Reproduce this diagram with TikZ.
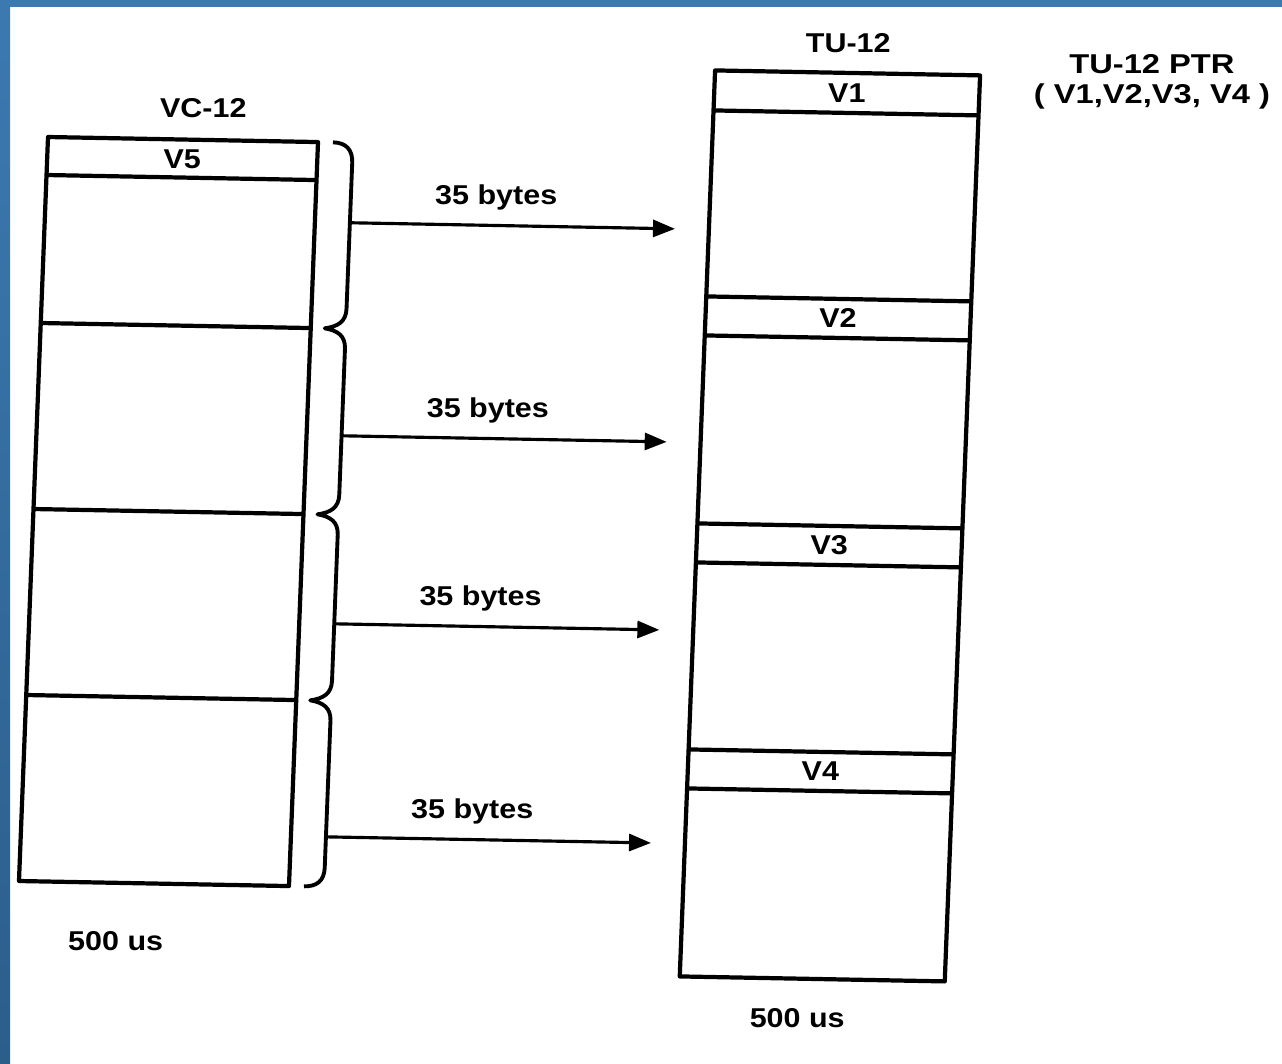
\documentclass[tikz,border=0pt]{standalone}
\usepackage{fontspec}
\setmainfont{Liberation Sans}[FakeStretch=1.12]
\usetikzlibrary{arrows.meta, positioning, calc}

\definecolor{scanblue}{HTML}{3C79B1}
\definecolor{scanbluedark}{HTML}{2C5E8A}

\begin{document}
\begin{tikzpicture}[x=0.02cm, y=-0.02cm, line join=round,
    frame/.style={line width=2.4pt},
    bracket/.style={line width=2.2pt},
    flow/.style={line width=1.8pt, -{Triangle[length=0.44cm, width=0.34cm]}},
    lbl/.style={font=\fontsize{15.5}{17}\selectfont\bfseries, inner sep=1pt}]

    % Page and scan border
    \useasboundingbox (0,0) rectangle (1282,1063);
    \fill[white] (0,0) rectangle (1282,1063);
    \shade[top color=scanblue, bottom color=scanbluedark] (0,0) rectangle (10,1063);
    \fill[scanblue] (0,0) rectangle (1282,7);

    % The scanned page is slightly skewed
    \begin{scope}[cm={1,-0.0187,0.039,1,(0.107cm,0.018cm)}]

    % VC-12 frame
    \draw[frame] (48,137) rectangle (318,881);
    \draw[frame] (48,175) -- (318,175);
    \foreach \y in {323,509,695}
        \draw[frame] (48,\y) -- (318,\y);
    \node[lbl] (vc) at (202,105) {VC-12};
    \node[lbl] (v5) at (183,156.5) {V5};
    \node[lbl] (tvc) at (147,939) {500 us};

    % TU-12 frame
    \draw[frame] (712,58) rectangle (977,964);
    \draw[frame] (712,98) -- (977,98);
    \node[lbl] (tu) at (844,28) {TU-12};
    \node[lbl] (v1) at (844.5,78) {V1};
    \foreach \y/\n in {284/2, 511/3, 737/4} {
        \draw[frame] (712,\y) -- (977,\y);
        \draw[frame] (712,\y+39) -- (977,\y+39);
        \node[lbl] (v\n) at (844.5,\y+19.5) {V\n};
    }
    \node[lbl] (ttu) at (831,1003) {500 us};
    \node[lbl, align=center, font=\fontsize{15.5}{17}\selectfont\bfseries\addfontfeature{FakeStretch=1.2}]
        (ptr) at (1149,61) {TU-12 PTR\\( V1,V2,V3, V4 )};

    % Brackets over the four parts
    \draw[bracket] (333,137) .. controls (346,137) and (353,144) .. (353,157)
        -- (353,303) .. controls (353,316) and (345,321) .. (332,323)
        .. controls (345,325) and (353,330) .. (353,343)
        -- (353,489) .. controls (353,502) and (345,507) .. (332,509)
        .. controls (345,511) and (353,516) .. (353,529)
        -- (353,675) .. controls (353,688) and (345,693) .. (332,695)
        .. controls (345,697) and (353,702) .. (353,715)
        -- (353,862) .. controls (353,875) and (346,881) .. (333,881);

    % Arrows
    \foreach \y/\n in {217/1, 430/2, 618/3, 831/4} {
        \coordinate (s\n) at (353,\y);
        \coordinate (e\n) at (678,\y);
        \draw[flow] (s\n) -- (e\n) node[lbl, pos=0.45, above=7pt] (b\n) {35 bytes};
    }
    \end{scope}
\end{tikzpicture}
\end{document}
